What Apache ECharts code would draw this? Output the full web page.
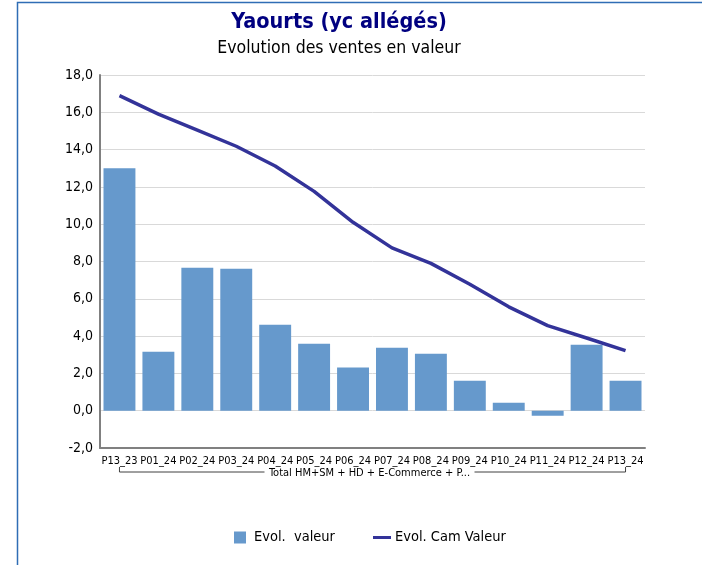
<!DOCTYPE html>
<html>
<head>
<meta charset="utf-8">
<script src="https://cdn.jsdelivr.net/npm/echarts@6/dist/echarts.min.js"></script>
<style>
  html, body { margin: 0; padding: 0; background: #fff; }
  #main { width: 702px; height: 565px; }
</style>
</head>
<body>
<div id="main"></div>
<script>
  const categories = ['P13_23', 'P01_24', 'P02_24', 'P03_24', 'P04_24', 'P05_24', 'P06_24',
    'P07_24', 'P08_24', 'P09_24', 'P10_24', 'P11_24', 'P12_24', 'P13_24'];
  const evolValeur = [13.0, 3.16, 7.67, 7.61, 4.61, 3.59, 2.31, 3.38, 3.06, 1.61, 0.43, -0.27, 3.54, 1.61];
  const evolCamValeur = [16.89, 15.9, 15.05, 14.18, 13.12, 11.76, 10.1, 8.73, 7.9, 6.78, 5.57, 4.56, 3.9, 3.22];
  const groupLabel = 'Total HM+SM + HD + E-Commerce + P...';

  const font = 'Tahoma, "DejaVu Sans Condensed", "DejaVu Sans", sans-serif';
  const legendText = { color: '#000', fontSize: 14.5, fontFamily: font };
  const chart = echarts.init(document.getElementById('main'));

  chart.setOption({
    animation: false,
    textStyle: { fontFamily: font },
    title: {
      text: 'Yaourts (yc allégés)',
      subtext: 'Evolution des ventes en valeur',
      left: 334,
      textAlign: 'center',
      top: 6,
      itemGap: 6,
      textStyle: { color: '#000080', fontSize: 21.5, fontWeight: 'bold', fontFamily: font },
      subtextStyle: { color: '#000', fontSize: 17.5, fontFamily: font }
    },
    legend: [
      {
        left: 229,
        top: 525,
        itemWidth: 12,
        itemHeight: 12,
        textStyle: Object.assign({ padding: [0, 0, 0, 3] }, legendText),
        data: [{ name: 'Evol.  valeur', icon: 'rect' }]
      },
      {
        left: 368,
        top: 525,
        itemWidth: 18,
        itemHeight: 12,
        textStyle: Object.assign({ padding: [0, 0, 0, -1] }, legendText),
        data: [{ name: 'Evol. Cam Valeur', icon: 'path://M0,4.5 L18,4.5 L18,7.5 L0,7.5 Z' }]
      }
    ],
    grid: { left: 100, right: 57, top: 75, bottom: 117 },
    xAxis: {
      type: 'category',
      data: categories,
      axisLine: { onZero: false, lineStyle: { color: '#808080', width: 2 } },
      axisTick: { show: false },
      axisLabel: { interval: 0, color: '#000', fontSize: 11, margin: 8, fontFamily: '"DejaVu Sans Condensed", sans-serif' }
    },
    yAxis: {
      type: 'value',
      min: -2,
      max: 18,
      interval: 2,
      axisLine: { show: true, lineStyle: { color: '#808080', width: 2 } },
      axisTick: { show: false },
      axisLabel: {
        color: '#000',
        fontSize: 14,
        margin: 7,
        formatter: v => v.toFixed(1).replace('.', ',')
      },
      splitLine: { lineStyle: { color: '#d9d9d9', width: 1 } }
    },
    series: [
      {
        name: 'Evol.  valeur',
        type: 'bar',
        data: evolValeur,
        barCategoryGap: '18%',
        itemStyle: { color: '#6699cc' }
      },
      {
        name: 'Evol. Cam Valeur',
        type: 'line',
        data: evolCamValeur,
        symbol: 'none',
        lineStyle: { color: '#333399', width: 3.5 },
        itemStyle: { color: '#333399' }
      }
    ]
  });

  // bracket under the category labels, spanning the first and last category
  const x0 = chart.convertToPixel({ xAxisIndex: 0 }, categories[0]);
  const x1 = chart.convertToPixel({ xAxisIndex: 0 }, categories[categories.length - 1]);
  const yb = 472;
  const xm = (x0 + x1) / 2 - 3;
  const gap = 105;
  const bracket = { stroke: '#404040', lineWidth: 1 };
  chart.setOption({
    graphic: [
      { type: 'rect', shape: { x: 17.5, y: 2.5, width: 700, height: 570 }, style: { fill: null, stroke: '#2f6db5', lineWidth: 1.5 }, silent: true },
      { type: 'polyline', shape: { points: [[x0, yb - 5], [x0, yb], [xm - gap, yb]] }, style: bracket },
      { type: 'polyline', shape: { points: [[xm + gap, yb], [x1, yb], [x1, yb - 5]] }, style: bracket },
      { type: 'text', x: xm, y: yb + 1, style: { text: groupLabel, align: 'center', verticalAlign: 'middle', fill: '#000', font: '11px "DejaVu Sans Condensed", sans-serif' } }
    ]
  });
</script>
</body>
</html>
